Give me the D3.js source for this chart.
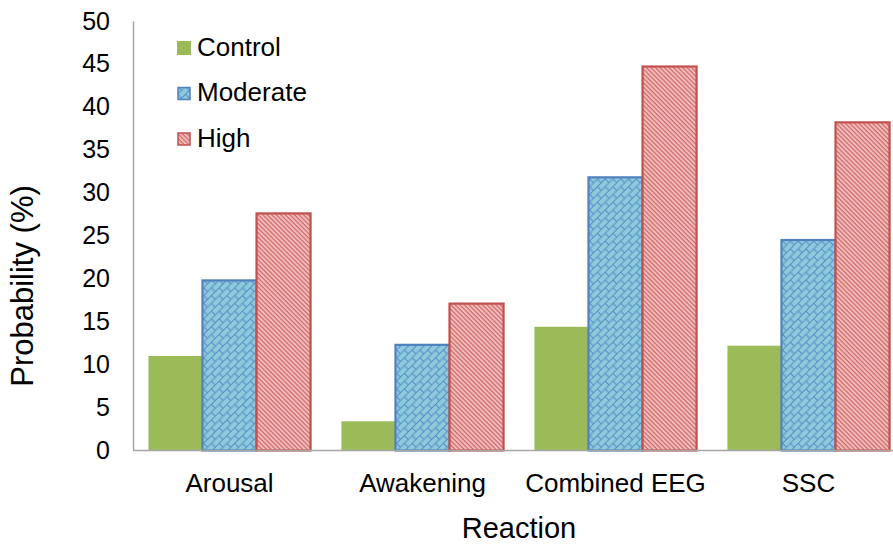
<!DOCTYPE html>
<html>
<head>
<meta charset="utf-8">
<script src="https://cdn.jsdelivr.net/npm/d3@7/dist/d3.min.js"></script>
<style>
  html, body { margin: 0; padding: 0; background: #ffffff; }
  svg { display: block; font-family: "Liberation Sans", Arial, sans-serif; }
</style>
</head>
<body>
<svg id="chart" width="893" height="544"></svg>
<script>
// Reaction probabilities (%) by exposure group
const categories = ["Arousal", "Awakening", "Combined EEG", "SSC"];
const seriesNames = ["Control", "Moderate", "High"];
const control  = [11.0, 3.4, 14.4, 12.2];
const moderate = [19.8, 12.3, 31.8, 24.5];
const high     = [27.6, 17.1, 44.7, 38.2];
const yTicks   = [0, 5, 10, 15, 20, 25, 30, 35, 40, 45, 50];

const rows = categories.map((c, i) => ({
  category: c,
  values: [
    { key: "Control",  value: control[i] },
    { key: "Moderate", value: moderate[i] },
    { key: "High",     value: high[i] }
  ]
}));

const svg = d3.select("#chart");
const plotLeft = 133, plotRight = 905, plotTop = 21, plotBottom = 450.5;

const x0 = d3.scaleBand().domain(categories).range([plotLeft, plotRight])
  .paddingInner(0.16).paddingOuter(0.08);
const x1 = d3.scaleBand().domain(seriesNames).range([0, x0.bandwidth()]).padding(0);
const y = d3.scaleLinear().domain([0, 50]).range([plotBottom, plotTop]);

// fill patterns
const defs = svg.append("defs");

// diagonal brick for Moderate
const brick = defs.append("pattern")
  .attr("id", "brick").attr("patternUnits", "userSpaceOnUse")
  .attr("width", 11).attr("height", 11)
  .attr("patternTransform", "rotate(-45)");
brick.append("rect").attr("width", 11).attr("height", 11).attr("fill", "#8ccbdc");
brick.append("path")
  .attr("d", "M0,0.5H11 M0,6H11 M0.5,0.5V6 M6,6V11.5")
  .attr("stroke", "#5b8cc6").attr("stroke-width", 1.1).attr("fill", "none");

// dense diagonal stripes for High
const stripe = defs.append("pattern")
  .attr("id", "stripe").attr("patternUnits", "userSpaceOnUse")
  .attr("width", 3.2).attr("height", 3.2)
  .attr("patternTransform", "rotate(45)");
stripe.append("rect").attr("width", 3.2).attr("height", 3.2).attr("fill", "#f1bdbc");
stripe.append("rect").attr("y", 0).attr("width", 3.2).attr("height", 1.2).attr("fill", "#cf6866");

const styles = {
  Control:  { fill: "#9bbb59", stroke: "none",    sw: 0 },
  Moderate: { fill: "url(#brick)",  stroke: "#4f81bd", sw: 2.2 },
  High:     { fill: "url(#stripe)", stroke: "#c0504d", sw: 2.2 }
};

// bars
const groups = svg.append("g").selectAll("g").data(rows).join("g")
  .attr("transform", d => `translate(${x0(d.category)},0)`);

groups.selectAll("rect").data(d => d.values).join("rect")
  .attr("x", d => x1(d.key))
  .attr("y", d => y(d.value))
  .attr("width", x1.bandwidth())
  .attr("height", d => y(0) - y(d.value))
  .attr("fill", d => styles[d.key].fill)
  .attr("stroke", d => styles[d.key].stroke)
  .attr("stroke-width", d => styles[d.key].sw);

// axes
const yAxis = d3.axisLeft(y).tickValues(yTicks).tickSize(0).tickPadding(23);
const gy = svg.append("g").attr("transform", `translate(${plotLeft},0)`).call(yAxis);
gy.select(".domain").attr("stroke", "#a6a6a6").attr("stroke-width", 1.5);
gy.selectAll("text").attr("font-size", 25).attr("fill", "#000")
  .attr("font-family", "Liberation Sans, Arial, sans-serif");

const xAxis = d3.axisBottom(x0).tickSize(0).tickPadding(0);
const gx = svg.append("g").attr("transform", `translate(0,${plotBottom})`).call(xAxis);
gx.select(".domain").remove();
gx.selectAll("text").attr("font-size", 26).attr("fill", "#000")
  .attr("dy", null).attr("y", 41.5)
  .attr("font-family", "Liberation Sans, Arial, sans-serif");

svg.append("line")
  .attr("x1", plotLeft).attr("x2", 893).attr("y1", plotBottom).attr("y2", plotBottom)
  .attr("stroke", "#a6a6a6").attr("stroke-width", 1.5);

// axis titles
svg.append("text")
  .attr("x", 519).attr("y", 538)
  .attr("text-anchor", "middle").attr("font-size", 29)
  .text("Reaction");

svg.append("text")
  .attr("transform", "translate(33,286) rotate(-90)")
  .attr("text-anchor", "middle").attr("font-size", 31)
  .text("Probability (%)");

// legend
const legend = svg.append("g").selectAll("g").data(seriesNames).join("g")
  .attr("transform", (d, i) => `translate(177,${41 + i * 45.5})`);
legend.append("rect")
  .attr("x", d => styles[d].sw ? 1 : 0).attr("y", d => styles[d].sw ? 1 : 0)
  .attr("width", d => styles[d].sw ? 12 : 14).attr("height", d => styles[d].sw ? 12 : 14)
  .attr("fill", d => styles[d].fill)
  .attr("stroke", d => styles[d].stroke)
  .attr("stroke-width", d => styles[d].sw ? 1.5 : 0);
legend.append("text")
  .attr("x", 20).attr("y", 14.5)
  .attr("font-size", 26)
  .text(d => d);
</script>
</body>
</html>
